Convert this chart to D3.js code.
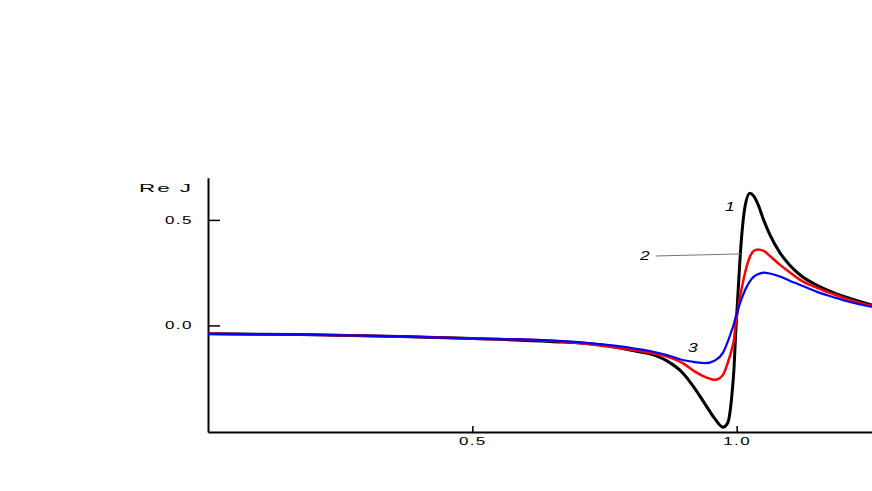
<!DOCTYPE html>
<html>
<head>
<meta charset="utf-8">
<script src="https://cdn.jsdelivr.net/npm/d3@7"></script>
<style>
  body { margin: 0; background: #fff; }
  svg { display: block; }
  .tick-label, .axis-label, .curve-label {
    font-family: "Liberation Sans", Arial, sans-serif;
    fill: #000;
  }
</style>
</head>
<body>
<div id="chart"></div>
<script>
// Frequency (x) shared by the three curves
const freq = [0.000, 0.174, 0.363, 0.501, 0.647, 0.741, 0.804, 0.836, 0.868, 0.898,
  0.921, 0.940, 0.959, 0.974, 0.983, 0.991, 0.995, 0.998, 1.002, 1.006,
  1.010, 1.016, 1.025, 1.032, 1.040, 1.051, 1.063, 1.082, 1.101, 1.120,
  1.152, 1.182, 1.214, 1.256];

// Re J values
const curve1 = [-0.040, -0.043, -0.052, -0.062, -0.076, -0.092, -0.119, -0.135, -0.168, -0.225,
  -0.299, -0.372, -0.443, -0.482, -0.462, -0.329, -0.201, -0.045, 0.130, 0.301,
  0.438, 0.566, 0.626, 0.614, 0.576, 0.500, 0.429, 0.344, 0.284, 0.239,
  0.190, 0.156, 0.128, 0.097];
const curve2 = [-0.040, -0.043, -0.052, -0.062, -0.073, -0.095, -0.116, -0.130, -0.148, -0.179,
  -0.219, -0.244, -0.258, -0.235, -0.178, -0.111, -0.066, 0.007, 0.069, 0.128,
  0.182, 0.251, 0.325, 0.353, 0.360, 0.353, 0.329, 0.287, 0.251, 0.216,
  0.178, 0.149, 0.121, 0.092];
const curve3 = [-0.040, -0.043, -0.052, -0.062, -0.071, -0.089, -0.108, -0.121, -0.140, -0.164,
  -0.174, -0.179, -0.166, -0.130, -0.078, -0.021, 0.009, 0.040, 0.071, 0.102,
  0.130, 0.168, 0.209, 0.230, 0.242, 0.250, 0.246, 0.232, 0.211, 0.192,
  0.159, 0.135, 0.111, 0.088];

const xTicks = [0.5, 1.0];
const yTicks = [0.0, 0.5];

// curve labels (text, x, y in data units)
const labelText = ["1", "2", "3"];
const labelX = [0.978, 0.817, 0.908];
const labelY = [0.544, 0.310, -0.124];
// leader line for label 2
const leaderX = [0.847, 1.008];
const leaderY = [0.329, 0.339];

const width = 872, height = 491;

const svg = d3.select("#chart")
  .append("svg")
  .attr("width", width)
  .attr("height", height);

const xScale = d3.scaleLinear()
  .domain([0, 1.256])
  .range([208, 872]);

const yScale = d3.scaleLinear()
  .domain([-0.505, 0.70])
  .range([432, 177.7]);

// Axes (ticks pointing inwards)
const bottomAxis = d3.axisBottom(xScale)
  .tickValues(xTicks)
  .tickSizeInner(-6)
  .tickSizeOuter(0)
  .tickPadding(6)
  .tickFormat(d3.format(".1f"));

const leftAxis = d3.axisLeft(yScale)
  .tickValues(yTicks)
  .tickSizeInner(-12)
  .tickSizeOuter(0)
  .tickPadding(9)
  .tickFormat(d3.format(".1f"));

const gx = svg.append("g")
  .attr("transform", `translate(0, ${yScale.range()[0]})`)
  .call(bottomAxis);

const gy = svg.append("g")
  .attr("transform", `translate(${xScale.range()[0]}, 0)`)
  .call(leftAxis);

[gx, gy].forEach(g => {
  g.select(".domain").attr("stroke", "#000").attr("stroke-width", 2);
  g.selectAll(".tick line").attr("stroke", "#000").attr("stroke-width", 1.5);
  g.selectAll(".tick text")
    .attr("class", "tick-label")
    .attr("font-size", 10)
    .attr("letter-spacing", 0.8)
    .attr("transform", "scale(1.7,1)");
});

// axis title
svg.append("g")
  .attr("transform", `translate(139, 192)`)
  .append("text")
  .attr("class", "axis-label")
  .attr("font-size", 11.5)
  .attr("letter-spacing", 1)
  .attr("transform", "scale(1.95,1)")
  .text("Re J");

// Curves
const line = d3.line()
  .x(d => xScale(d[0]))
  .y(d => yScale(d[1]))
  .curve(d3.curveMonotoneX);

const series = [
  { values: curve1, color: "#000000", w: 3 },
  { values: curve2, color: "#ff0000", w: 2.5 },
  { values: curve3, color: "#0000ff", w: 2.2 }
];

series.forEach(s => {
  svg.append("path")
    .datum(freq.map((f, i) => [f, s.values[i]]))
    .attr("fill", "none")
    .attr("stroke", s.color)
    .attr("stroke-width", s.w)
    .attr("stroke-linejoin", "round")
    .attr("d", line);
});

// leader line for "2"
svg.append("line")
  .attr("x1", xScale(leaderX[0]))
  .attr("y1", yScale(leaderY[0]))
  .attr("x2", xScale(leaderX[1]))
  .attr("y2", yScale(leaderY[1]))
  .attr("stroke", "#777")
  .attr("stroke-width", 1);

// curve labels
labelText.forEach((t, i) => {
  svg.append("g")
    .attr("transform", `translate(${xScale(labelX[i])}, ${yScale(labelY[i])})`)
    .append("text")
    .attr("class", "curve-label")
    .attr("font-size", 12)
    .attr("font-style", "italic")
    .attr("transform", "scale(1.45,1)")
    .text(t);
});
</script>
</body>
</html>
